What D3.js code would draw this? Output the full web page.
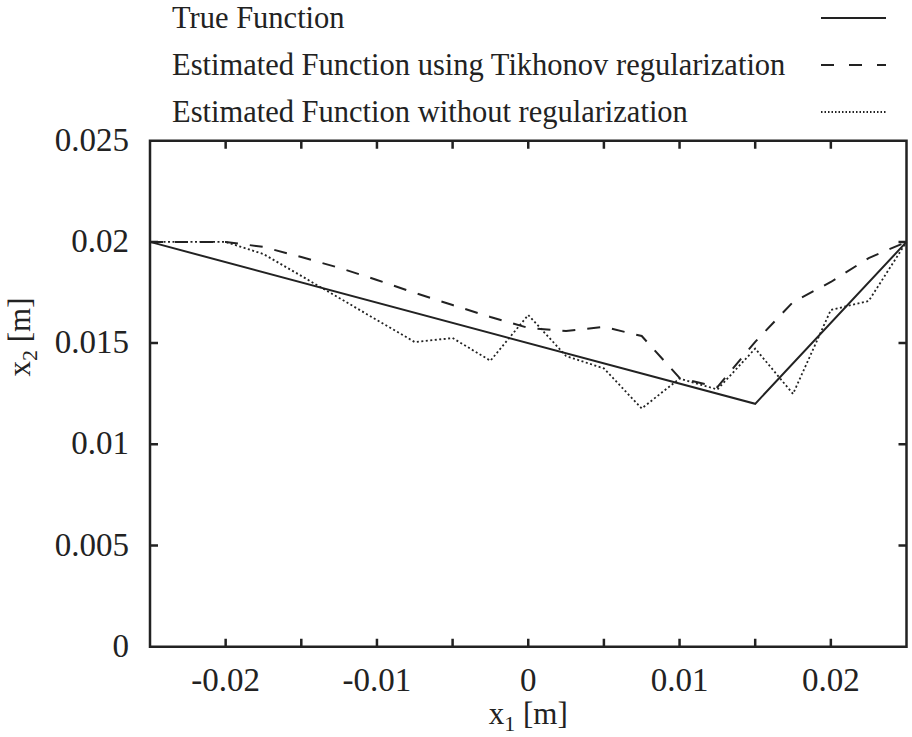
<!DOCTYPE html>
<html>
<head>
<meta charset="utf-8">
<script src="https://cdn.jsdelivr.net/npm/d3@7"></script>
<style>
  body { margin: 0; background: #fff; }
  svg { display: block; }
  text { font-family: "Liberation Serif", "DejaVu Serif", serif; fill: #222; }
</style>
</head>
<body>
<svg id="chart" width="912" height="737"></svg>
<script>
// x1 positions (m) of the estimated points
var xs = [-0.025, -0.0225, -0.02, -0.0175, -0.015, -0.0125, -0.01, -0.0075, -0.005, -0.0025,
          0, 0.0025, 0.005, 0.0075, 0.01, 0.0125, 0.015, 0.0175, 0.02, 0.0225, 0.025];
// true function vertices
var trueX = [-0.025, 0.015, 0.025];
var trueY = [0.02, 0.012, 0.02];
// estimated with Tikhonov regularization
var tikhonov = [0.0200, 0.0200, 0.0200, 0.01975, 0.01925, 0.01872, 0.01812, 0.01748, 0.01688, 0.01629,
                0.01575, 0.01560, 0.01580, 0.01535, 0.01328, 0.01283, 0.01506, 0.01703, 0.01802, 0.01920, 0.0200];
// estimated without regularization
var noReg = [0.0200, 0.0200, 0.0200, 0.01940, 0.01832, 0.01723, 0.01614, 0.01505, 0.01525, 0.01413,
             0.01639, 0.01436, 0.01375, 0.01177, 0.01325, 0.01271, 0.01473, 0.01249, 0.01664, 0.01708, 0.0200];
var xTicks = [-0.02, -0.015, -0.01, -0.005, 0, 0.005, 0.01, 0.015, 0.02];
var xLabels = [-0.02, -0.01, 0, 0.01, 0.02];
var yTicks = [0.005, 0.01, 0.015, 0.02];
var yLabels = [0, 0.005, 0.01, 0.015, 0.02, 0.025];
var legendNames = ["True Function", "Estimated Function using Tikhonov regularization", "Estimated Function without regularization"];

var pLeft = 150, pRight = 906.5, pTop = 140.7, pBottom = 646.7;
var svg = d3.select("#chart");

var x = d3.scaleLinear().domain([-0.025, 0.025]).range([pLeft, pRight]);
var y = d3.scaleLinear().domain([0, 0.025]).range([pBottom, pTop]);

var tickLen = 8;
var fmt = function(d){ return d === 0 ? "0" : String(+d.toFixed(4)); };

// frame plus inward ticks on all four sides, as one path
var p = d3.path();
p.rect(pLeft, pTop, pRight - pLeft, pBottom - pTop);
xTicks.forEach(function(d){
	p.moveTo(x(d), pBottom); p.lineTo(x(d), pBottom - tickLen);
	p.moveTo(x(d), pTop); p.lineTo(x(d), pTop + tickLen);
});
yTicks.forEach(function(d){
	p.moveTo(pLeft, y(d)); p.lineTo(pLeft + tickLen, y(d));
	p.moveTo(pRight, y(d)); p.lineTo(pRight - tickLen, y(d));
});
svg.append("path")
	.attr("d", p.toString())
	.attr("fill", "none").attr("stroke", "#222").attr("stroke-width", 2.5);

// tick labels
svg.selectAll(".xl").data(xLabels).enter().append("text")
	.attr("x", function(d){ return x(d); })
	.attr("y", pBottom + 44)
	.attr("text-anchor", "middle")
	.attr("font-size", 33)
	.text(fmt);
svg.selectAll(".yl").data(yLabels).enter().append("text")
	.attr("x", pLeft - 21)
	.attr("y", function(d){ return y(d) + 10; })
	.attr("text-anchor", "end")
	.attr("font-size", 33)
	.text(fmt);

// axis titles
var xt = svg.append("text").attr("x", x(0)).attr("y", 724).attr("text-anchor", "middle").attr("font-size", 31);
xt.append("tspan").text("x");
xt.append("tspan").attr("font-size", 22).attr("dy", 7).text("1");
xt.append("tspan").attr("dy", -7).text(" [m]");

var yt = svg.append("text").attr("transform", "translate(30," + y(0.0153) + ") rotate(-90)")
	.attr("text-anchor", "middle").attr("font-size", 31);
yt.append("tspan").text("x");
yt.append("tspan").attr("font-size", 22).attr("dy", 7).text("2");
yt.append("tspan").attr("dy", -7).text(" [m]");

// curves
var line = d3.line().x(function(d){ return x(d[0]); }).y(function(d){ return y(d[1]); });
var styles = [
	{ dash: null, width: 2 },
	{ dash: "13,12", width: 2 },
	{ dash: "2,2.5", width: 1.8 }
];
var series = [d3.zip(trueX, trueY), d3.zip(xs, tikhonov), d3.zip(xs, noReg)];

svg.selectAll(".curve").data(series).enter().append("path")
	.attr("class", "curve")
	.attr("d", line)
	.attr("fill", "none")
	.attr("stroke", "#222")
	.attr("stroke-width", function(d, i){ return styles[i].width; })
	.attr("stroke-dasharray", function(d, i){ return styles[i].dash; });

// legend
var leg = svg.selectAll(".leg").data(legendNames).enter().append("g")
	.attr("transform", function(d, i){ return "translate(0," + (18 + i * 47) + ")"; });
leg.append("text").attr("x", 172).attr("y", 10).attr("font-size", 30.5).text(function(d){ return d; });
leg.append("line")
	.attr("x1", 821).attr("x2", 886).attr("y1", 0).attr("y2", 0)
	.attr("stroke", "#222")
	.attr("stroke-width", function(d, i){ return styles[i].width; })
	.attr("stroke-dasharray", function(d, i){ return i === 1 ? "13,15" : (i === 2 ? "1.5,2" : null); });
</script>
</body>
</html>
